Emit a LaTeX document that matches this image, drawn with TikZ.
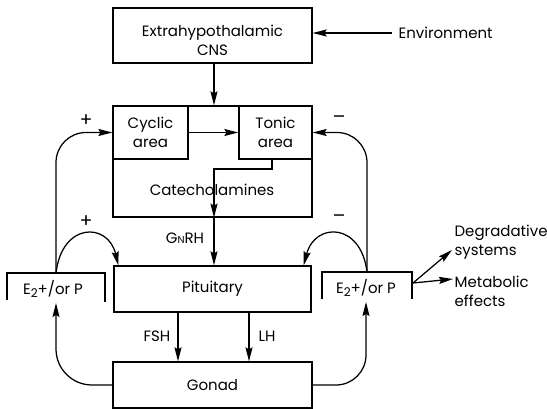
\documentclass[tikz,border=0pt]{standalone}
\usepackage{fontspec}
\setmainfont{Poppins}
\usetikzlibrary{arrows.meta}
\begin{document}
\begin{tikzpicture}[x=1pt,y=-1pt, line width=1.25pt,
  every node/.style={font=\fontsize{15}{19}\selectfont, inner sep=0pt},
  arr/.style={-{Stealth[length=14pt,width=7pt,inset=2pt]}},
  blk/.style={draw, rectangle},
  sign/.style={font=\fontsize{19}{19}\selectfont},
  ]
\useasboundingbox (0,0) rectangle (547,409);
% top box
\node[blk, minimum width=199pt, minimum height=55pt] (extra) at (212.5,35.5) {};
\node[align=center] (extratxt) at (212.5,40) {Extrahypothalamic\\CNS};
\node[anchor=west] (env) at (398,33) {Environment};
\draw[arr, shorten <=6pt] (env.west) -- (env.west -| extra.east);
% hypothalamus
\node[blk, minimum width=199pt, minimum height=111pt] (hyp) at (212.5,161.5) {};
\node[blk, minimum width=75pt, minimum height=53pt, align=center] (cyclic) at (150.5,132.5) {Cyclic\\area};
\node[blk, minimum width=73pt, minimum height=53pt, align=center] (tonic) at (275.5,132.5) {Tonic\\area};
\draw[arr] (cyclic.east) -- (tonic.west);
\coordinate (mx) at (214,0);
\coordinate (tx) at (272,169);
\draw[arr] (extra.south -| mx) -- (hyp.north -| mx);
\node (catec) at (212,190) {Catecholamines};
\draw[arr] (tonic.south -| tx) |- (mx |- tx) -- (hyp.south -| mx);
% pituitary, gonad
\node[blk, minimum width=197pt, minimum height=46pt] (pit) at (212.5,289) {Pituitary};
\node[blk, minimum width=199pt, minimum height=46pt] (gonad) at (212.5,385) {Gonad};
\draw[arr] (hyp.south -| mx) -- (pit.north -| mx);
\node (gnrh) at (185,238) {G{\fontsize{10}{10}\selectfont N}RH};
\coordinate (fx) at (178,0);
\coordinate (lx) at (249,0);
\draw[arr] (pit.south -| fx) -- (gonad.north -| fx);
\draw[arr] (pit.south -| lx) -- (gonad.north -| lx);
\node (fsh) at (157,336) {FSH};
\node (lh) at (267,336) {LH};
% E2 boxes
\coordinate (eLa) at (7,300); \coordinate (eLb) at (7,273);
\coordinate (eLc) at (105,273); \coordinate (eLd) at (105,302);
\draw (eLa) -- (eLb) -- (eLc) -- (eLd);
\node (eL) at (53,289) {E{\fontsize{12}{12}\selectfont\raisebox{-3pt}{2}}+/or P};
\coordinate (eRa) at (322,299); \coordinate (eRb) at (322,272);
\coordinate (eRc) at (412,272); \coordinate (eRd) at (412,299);
\draw (eRa) -- (eRb) -- (eRc) -- (eRd);
\node (eR) at (366,288) {E{\fontsize{12}{12}\selectfont\raisebox{-3pt}{2}}+/or P};
% feedback loops
\coordinate (lt) at (56,273);
\coordinate (rt) at (367,272);
\draw[arr, rounded corners=30pt] (lt) |- (cyclic.west);
\draw[arr] (lt) .. controls (62,222) and (108,222) .. ([xshift=5pt]pit.north west);
\draw[arr, rounded corners=30pt] (rt) |- (tonic.east);
\draw[arr] (rt) .. controls (361,222) and (315,222) .. ([xshift=-8pt]pit.north east);
\coordinate (lb) at (56,303);
\coordinate (rb) at (366,302);
\draw[arr, rounded corners=36pt] (gonad.west) -| (lb);
\draw[arr, rounded corners=30pt] (gonad.east) -| (rb);
\node[sign] (pa) at (86,121) {+};
\node[sign] (pb) at (86,222) {+};
\node[sign] (ma) at (339,120) {–};
\node[sign] (mb) at (339,219) {–};
% outputs
\coordinate (src) at (413,283);
\coordinate (degtip) at (452,250);
\coordinate (mettip) at (453,279);
\draw[arr] (src) -- (degtip);
\draw[arr] (src) -- (mettip);
\node[anchor=west, align=left] (deg) at (454,242) {Degradative\\systems};
\node[anchor=west, align=left] (met) at (454,291) {Metabolic\\effects};
\end{tikzpicture}
\end{document}
